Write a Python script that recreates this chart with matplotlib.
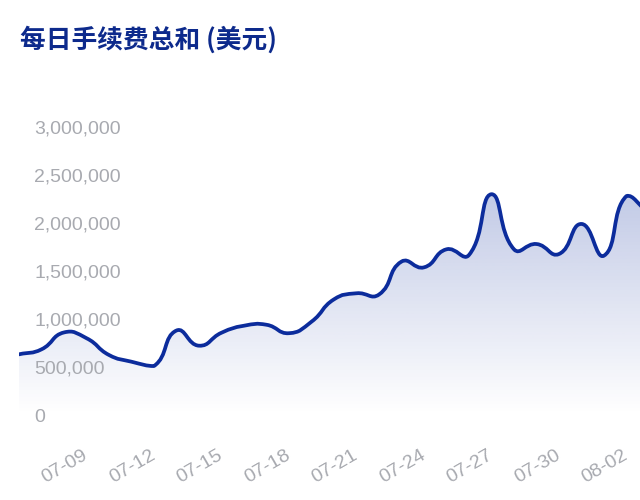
import numpy as np
import matplotlib
matplotlib.use("Agg")
import matplotlib.pyplot as plt
from matplotlib.path import Path
from matplotlib.patches import PathPatch
from matplotlib.colors import to_rgb

plt.rcParams['font.family'] = ['Noto Sans CJK SC', 'DejaVu Sans']

# ---- data ----
dates = ['07-06', '07-07', '07-08', '07-09', '07-10', '07-11', '07-12', '07-13',
         '07-14', '07-15', '07-16', '07-17', '07-18', '07-19', '07-20', '07-21',
         '07-22', '07-23', '07-24', '07-25', '07-26', '07-27', '07-28', '07-29',
         '07-30', '07-31', '08-01', '08-02', '08-03']
fees = [632000, 684000, 860000, 800000, 625000, 555000, 510000, 880000,
        722000, 857000, 930000, 940000, 852000, 972000, 1205000, 1268000,
        1255000, 1598000, 1538000, 1726000, 1667000, 2300000, 1726000, 1781000,
        1677000, 1990000, 1660000, 2281000, 2100000]
shown_ticks = ['07-09', '07-12', '07-15', '07-18', '07-21', '07-24', '07-27', '07-30', '08-02']
y_ticks = [0, 500000, 1000000, 1500000, 2000000, 2500000, 3000000]
title = '每日手续费总和 (美元)'

LINE = '#0c2c9c'
GREY = '#a8aab0'
TITLE_C = '#0d2a8c'

fig = plt.figure(figsize=(6.4, 5.0), dpi=100)
fig.patch.set_facecolor('white')
ax = fig.add_axes([19/640, 85/500, 621/640, 288/500])
ax.set_facecolor('none')
x = np.arange(len(dates), dtype=float)
xlim = (0, 621/22.5)
ylim = (0, 3000000)
ax.set_xlim(*xlim)
ax.set_ylim(*ylim)

# ---- smooth path (echarts v4 style bezier, bbox-constrained) in display space ----
disp = ax.transData.transform(np.column_stack([x, np.array(fees, float)]))
smooth = 0.5
pmin = disp.min(axis=0)
pmax = disp.max(axis=0)
n = len(disp)
cpin = np.zeros_like(disp)
cpout = np.zeros_like(disp)
for i in range(n):
    p = disp[i]
    prev = disp[max(i-1, 0)]
    nxt = disp[min(i+1, n-1)]
    v = nxt - prev
    l0 = np.hypot(*(p - prev))
    l1 = np.hypot(*(nxt - p))
    r = 0.5 if (l0 + l1) == 0 else l1 / (l0 + l1)
    cin = p - v * smooth * (1 - r)
    cout = p + v * smooth * r
    cpin[i] = np.clip(cin, pmin, pmax)
    cpout[i] = np.clip(cout, pmin, pmax)

verts = [tuple(disp[0])]
codes = [Path.MOVETO]
for i in range(1, n):
    verts += [tuple(cpout[i-1]), tuple(cpin[i]), tuple(disp[i])]
    codes += [Path.CURVE4] * 3

inv = ax.transData.inverted()
dverts = inv.transform(np.array(verts))
line_path = Path(dverts, codes)

area_verts = np.vstack([dverts, [[x[-1], 0], [x[0], 0], [x[0], 0]]])
area_codes = codes + [Path.LINETO, Path.LINETO, Path.CLOSEPOLY]
area_path = Path(area_verts, area_codes)
area_patch = PathPatch(area_path, facecolor='none', edgecolor='none')
ax.add_patch(area_patch)

rgb = to_rgb(LINE)
grad = np.zeros((256, 1, 4))
grad[:, 0, :3] = rgb
grad[:, 0, 3] = np.linspace(0.0, 0.25, 256)
im = ax.imshow(grad, extent=[x[0], x[-1], 0, max(fees)], origin='lower',
               aspect='auto', interpolation='bilinear', zorder=1)
im.set_clip_path(area_patch)

ax.add_patch(PathPatch(line_path, facecolor='none', edgecolor=LINE, lw=2.7,
                       capstyle='round', joinstyle='round', zorder=3))

ax.set_xlim(*xlim)
ax.set_ylim(*ylim)

# ---- axes styling ----
for s in ax.spines.values():
    s.set_visible(False)

ax.set_yticks(y_ticks)
ax.set_yticklabels([f'{v:,}' for v in y_ticks], fontsize=14,
                   family='Liberation Sans', color=GREY)
ax.tick_params(axis='y', length=0, pad=-10.8)
for lbl in ax.get_yticklabels():
    lbl.set_horizontalalignment('left')

tick_pos = [dates.index(d) for d in shown_ticks]
ax.set_xticks(tick_pos)
ax.set_xticklabels(shown_ticks, fontsize=14, family='Liberation Sans', color=GREY,
                   rotation=30, ha='right', va='center', rotation_mode='anchor')
ax.tick_params(axis='x', length=0, pad=28)

fig.text(20/640, 1 - 40/500, title, fontsize=18.5, fontweight='bold',
         color=TITLE_C, ha='left', va='center')

fig.savefig('out.png', dpi=100)
